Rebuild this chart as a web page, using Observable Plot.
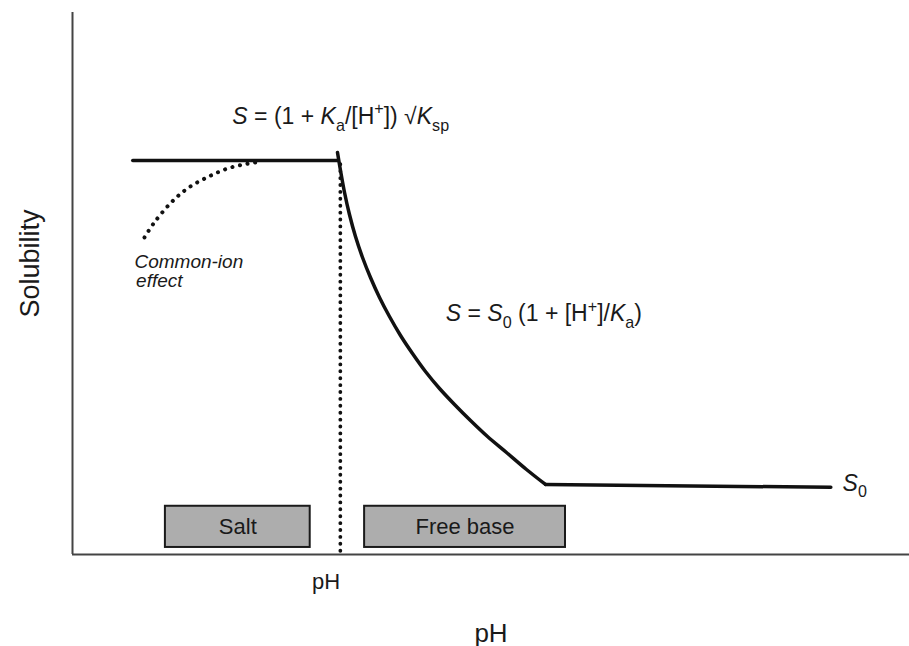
<!DOCTYPE html>
<html>
<head>
<meta charset="utf-8">
<script src="https://cdn.jsdelivr.net/npm/d3@7"></script>
<script src="https://cdn.jsdelivr.net/npm/@observablehq/plot@0.6"></script>
<style>
  html, body { margin: 0; padding: 0; background: #fff; }
  #chart svg { display: block; }
</style>
</head>
<body>
<div id="chart"></div>
<script>
// ---- Data (arbitrary units: x = pH-like axis 0..100, y = solubility 0..100) ----
const saltPlateau = [[7.2, 72.7], [31.7, 72.7]];
const freeBaseCurve = [
  [31.66, 74.17], [32.02, 70.85], [32.50, 66.79], [33.09, 62.73], [33.81, 58.67],
  [34.65, 54.80], [35.60, 51.11], [36.68, 47.42], [37.87, 43.91], [39.19, 40.41],
  [40.62, 37.08], [42.17, 33.76], [43.85, 30.63], [45.64, 27.68], [47.55, 24.72],
  [49.58, 21.77], [51.85, 18.82], [54.24, 15.68], [56.51, 12.92]
];
const intrinsicPlateau = [[56.51, 12.92], [90.6, 12.4]];
const commonIonCurve = [
  [8.6, 58.5], [9.7, 61.1], [11.7, 64.8], [13.7, 67.5], [16.1, 69.6], [18.5, 71.2], [20.9, 72.1], [22.7, 72.5]
];
const pHmaxLine = [[32.0, 72.0], [32.0, 0]];
const boxLabels = ["Salt", "Free base"];
const boxStart = [11.1, 34.9];
const boxEnd = [28.4, 58.9];
const boxBottom = [1.3, 1.3];
const boxTop = [8.9, 8.9];
const formulaTexts = ["*S* = (1 + *K*_{a}/[H^{+}]) √*K*_{sp}", "*S* = *S*_{0} (1 + [H^{+}]/*K*_{a})", "*S*_{0}"];
const formulaX = [19.1, 44.6, 92.0];
const formulaY = [79.5, 43.0, 11.8];
const noteTexts = ["Common-ion", "effect"];
const noteX = [7.4, 7.6];
const noteY = [52.9, 49.3];
const tickLabel = "pH";
const tickPos = 30.3;
const xLabel = "pH";
const yLabel = "Solubility";

const boxes = boxLabels.map((label, i) => ({label, x1: boxStart[i], x2: boxEnd[i], y1: boxBottom[i], y2: boxTop[i]}));
const formulas = formulaTexts.map((t, i) => ({t, x: formulaX[i], y: formulaY[i]}));
const notes = noteTexts.map((t, i) => ({t, x: noteX[i], y: noteY[i]}));

const FONT = "'Liberation Sans', Arial, Helvetica, sans-serif";

const chart = Plot.plot({
  width: 909,
  height: 646,
  marginLeft: 72,
  marginRight: 0,
  marginTop: 12,
  marginBottom: 92,
  x: {domain: [0, 100], axis: null},
  y: {domain: [0, 100], axis: null},
  style: {fontFamily: FONT, background: "#fff", overflow: "visible", color: "#1a1a1a"},
  marks: [
    Plot.ruleX([0], {stroke: "#444", strokeWidth: 2}),
    Plot.ruleY([0], {stroke: "#444", strokeWidth: 2}),
    Plot.rect(boxes, {x1: "x1", x2: "x2", y1: "y1", y2: "y2", fill: "#adadad", stroke: "#1a1a1a", strokeWidth: 2}),
    Plot.text(boxes, {x: d => (d.x1 + d.x2) / 2, y: d => (d.y1 + d.y2) / 2, text: "label", fontSize: 22, fill: "#1a1a1a"}),
    Plot.line(pHmaxLine, {stroke: "#111", strokeWidth: 3.8, strokeDasharray: "0.1,6.8", strokeLinecap: "round"}),
    Plot.line(commonIonCurve, {stroke: "#111", strokeWidth: 4, strokeDasharray: "0.1,7.6", strokeLinecap: "round", curve: "catmull-rom"}),
    Plot.line(saltPlateau, {stroke: "#111", strokeWidth: 3.5}),
    Plot.line(freeBaseCurve, {stroke: "#111", strokeWidth: 3.5, curve: "catmull-rom"}),
    Plot.line(intrinsicPlateau, {stroke: "#111", strokeWidth: 3.5}),
    Plot.text(formulas, {x: "x", y: "y", text: "t", textAnchor: "start", lineAnchor: "bottom", fontSize: 23, fill: "#1a1a1a"}),
    Plot.text(notes, {x: "x", y: "y", text: "t", textAnchor: "start", lineAnchor: "bottom", fontSize: 19, fontStyle: "italic", fill: "#1a1a1a"}),
    Plot.text([tickLabel], {x: tickPos, frameAnchor: "bottom", dy: 34, lineAnchor: "bottom", fontSize: 22, fill: "#1a1a1a"}),
    Plot.text([xLabel], {frameAnchor: "bottom", dx: 0, dy: 87, lineAnchor: "bottom", fontSize: 26, fill: "#1a1a1a"}),
    Plot.text([yLabel], {x: -5, y: 53.7, rotate: -90, fontSize: 27, fill: "#1a1a1a"})
  ]
});

// rich-text formatting (italic, subscripts, superscripts) for formula labels
d3.select(chart).selectAll("text").each(function() {
  const s = this.textContent;
  if (!s.includes("*") && !s.includes("_{") && !s.includes("^{")) return;
  const fs = parseFloat(getComputedStyle(this).fontSize) || 23;
  const re = /\*([^*]+)\*|_\{([^}]+)\}|\^\{([^}]+)\}|([^*_^]+)/g;
  const el = d3.select(this);
  el.text(null);
  let cur = 0, m;
  while ((m = re.exec(s))) {
    let txt, kind;
    if (m[1] !== undefined) { txt = m[1]; kind = "it"; }
    else if (m[2] !== undefined) { txt = m[2]; kind = "sub"; }
    else if (m[3] !== undefined) { txt = m[3]; kind = "sup"; }
    else { txt = m[4]; kind = "n"; }
    const want = kind === "sub" ? 0.3 * fs : kind === "sup" ? -0.42 * fs : 0;
    const ts = el.append("tspan").text(txt).attr("dy", (want - cur).toFixed(2));
    cur = want;
    if (kind === "it") ts.attr("font-style", "italic");
    if (kind === "sub" || kind === "sup") ts.attr("font-size", (fs * 0.7).toFixed(1));
  }
});

document.getElementById("chart").appendChild(chart);
</script>
</body>
</html>
